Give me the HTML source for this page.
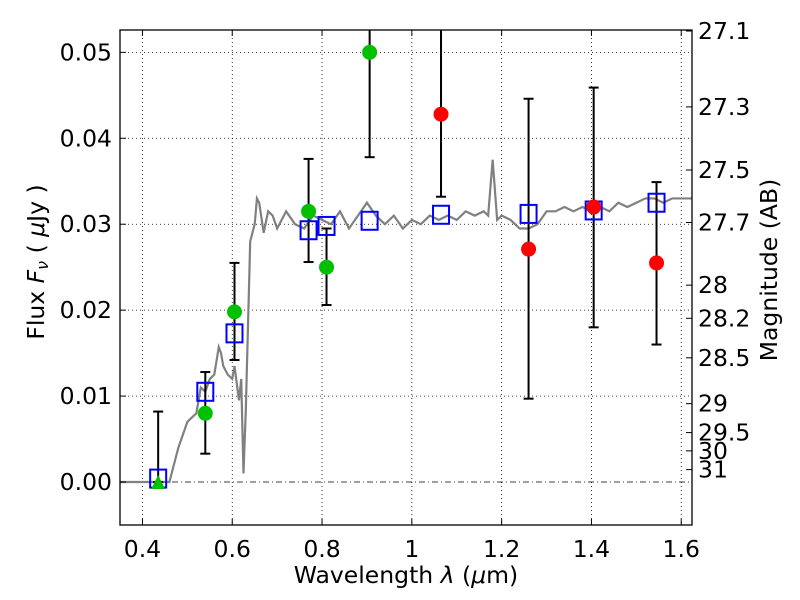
<!DOCTYPE html>
<html><head><meta charset="utf-8"><style>
html,body{margin:0;padding:0;background:#fff;}
svg{display:block;font-family:"DejaVu Sans","Liberation Sans",sans-serif;}
</style></head><body>
<svg id="chart" width="800" height="600" viewBox="0 0 800 600"></svg>
<script>
const xTicks=[0.4,0.6,0.8,1.0,1.2,1.4,1.6];
const xTickLabels=["0.4","0.6","0.8","1","1.2","1.4","1.6"];
const yTicks=[0,0.01,0.02,0.03,0.04,0.05];
const yTickLabels=["0.00","0.01","0.02","0.03","0.04","0.05"];
const magTicks=[27.1,27.3,27.5,27.7,28,28.2,28.5,29,29.5,30,31];
const specX=[0.30,0.46,0.48,0.50,0.51,0.52,0.53,0.54,0.55,0.56,0.57,0.575,0.58,0.59,0.60,0.605,0.61,0.615,0.62,0.625,0.63,0.64,0.65,0.655,0.66,0.67,0.68,0.69,0.70,0.72,0.74,0.76,0.78,0.80,0.82,0.84,0.86,0.88,0.90,0.92,0.94,0.96,0.98,1.00,1.02,1.04,1.06,1.08,1.10,1.12,1.14,1.16,1.17,1.18,1.19,1.20,1.22,1.24,1.26,1.28,1.30,1.32,1.34,1.36,1.38,1.40,1.42,1.44,1.46,1.48,1.50,1.52,1.54,1.56,1.58,1.60,1.625];
const specY=[0,0,0.004,0.007,0.0075,0.008,0.011,0.0105,0.012,0.0125,0.0157,0.015,0.0135,0.0125,0.012,0.0135,0.0115,0.0095,0.012,0.001,0.008,0.028,0.030,0.033,0.0325,0.029,0.0315,0.031,0.0295,0.0315,0.030,0.0295,0.031,0.0305,0.030,0.0315,0.0295,0.031,0.0325,0.031,0.030,0.031,0.0295,0.0305,0.030,0.031,0.0305,0.031,0.0305,0.0315,0.031,0.0315,0.031,0.0375,0.0305,0.031,0.0305,0.0295,0.0295,0.030,0.0315,0.0315,0.032,0.0315,0.032,0.0315,0.032,0.0315,0.0325,0.032,0.0325,0.033,0.033,0.0325,0.033,0.033,0.033];
const modelX=[0.435,0.54,0.605,0.77,0.81,0.906,1.065,1.26,1.405,1.545];
const modelY=[0.0004,0.0105,0.0173,0.0293,0.0298,0.0304,0.0311,0.0312,0.0316,0.0325];
const greenX=[0.54,0.605,0.77,0.81,0.906];
const greenY=[0.008,0.0198,0.0315,0.025,0.05];
const greenLo=[0.0033,0.0142,0.0256,0.0206,0.0378];
const greenHi=[0.0128,0.0255,0.0376,0.0295,0.06];
const triX=[0.435];
const triY=[0.0];
const triLo=[0.0];
const triHi=[0.0082];
const redX=[1.065,1.26,1.405,1.545];
const redY=[0.0428,0.0271,0.032,0.0255];
const redLo=[0.0332,0.0097,0.018,0.016];
const redHi=[0.06,0.0446,0.0459,0.0349];

const L=120,R=692,T=30,B=525;
const X0=0.35,X1=1.624,Y0=-0.005,Y1=0.0526;
const sx=v=>L+(v-X0)/(X1-X0)*(R-L);
const sy=v=>B-(v-Y0)/(Y1-Y0)*(B-T);
const svg=document.getElementById('chart');
const NS='http://www.w3.org/2000/svg';
function mk(tag,attrs,parent){const e=document.createElementNS(NS,tag);for(const k in attrs)e.setAttribute(k,attrs[k]);(parent||svg).appendChild(e);return e;}

const clip=mk('clipPath',{id:'pc'});mk('rect',{x:L,y:T,width:R-L,height:B-T},clip);
const grid=mk('g',{});


xTicks.forEach(v=>{mk('line',{x1:sx(v),x2:sx(v),y1:T,y2:B,stroke:'#000','stroke-width':0.8,'stroke-dasharray':'1,3'},grid);});
yTicks.forEach(v=>{if(v!==0)mk('line',{x1:L,x2:R,y1:sy(v),y2:sy(v),stroke:'#000','stroke-width':0.8,'stroke-dasharray':'1,3'},grid);});
const zl=mk('line',{x1:L,x2:R,y1:sy(0),y2:sy(0),stroke:'#000','stroke-width':0.8,'stroke-dasharray':'6,3,1,3'});



const pg=mk('g',{'clip-path':'url(#pc)'});
const sp=mk('polyline',{points:specX.map((x,i)=>sx(x)+','+sy(specY[i])).join(' '),fill:'none',stroke:'#808080','stroke-width':2.2},pg);



function errs(xs,lo,hi,name){xs.forEach((x,i)=>{const g=mk('g',{},pg);


mk('line',{x1:sx(x),x2:sx(x),y1:sy(lo[i]),y2:sy(hi[i]),stroke:'#000','stroke-width':2},g);
mk('line',{x1:sx(x)-5,x2:sx(x)+5,y1:sy(lo[i]),y2:sy(lo[i]),stroke:'#000','stroke-width':2},g);
mk('line',{x1:sx(x)-5,x2:sx(x)+5,y1:sy(hi[i]),y2:sy(hi[i]),stroke:'#000','stroke-width':2},g);});}
errs(triX,triLo,triHi,'triangle');errs(greenX,greenLo,greenHi,'green');errs(redX,redLo,redHi,'red');

modelX.forEach((x,i)=>{const r=mk('rect',{x:sx(x)-8,y:sy(modelY[i])-9,width:16,height:18,fill:'none',stroke:'#0000ff','stroke-width':2},pg);

});
triX.forEach((x,i)=>{const p=mk('polygon',{points:`${sx(x)-7},${sy(triY[i])+7} ${sx(x)+7},${sy(triY[i])+7} ${sx(x)},${sy(triY[i])-7}`,fill:'#00c000'},pg);

});
greenX.forEach((x,i)=>{const c=mk('circle',{cx:sx(x),cy:sy(greenY[i]),r:7.5,fill:'#00c000'},pg);

});
redX.forEach((x,i)=>{const c=mk('circle',{cx:sx(x),cy:sy(redY[i]),r:7.5,fill:'#ff0000'},pg);

});

const fr=mk('rect',{x:L,y:T,width:R-L,height:B-T,fill:'none',stroke:'#000','stroke-width':1.3});



xTicks.forEach((v,i)=>{mk('line',{x1:sx(v),x2:sx(v),y1:B,y2:B-6,stroke:'#000'});mk('line',{x1:sx(v),x2:sx(v),y1:T,y2:T+6,stroke:'#000'});
const t=mk('text',{x:sx(v),y:B+32,'font-size':23.5,'text-anchor':'middle'});t.textContent=xTickLabels[i];

});
yTicks.forEach((v,i)=>{mk('line',{x1:L,x2:L+6,y1:sy(v),y2:sy(v),stroke:'#000'});
const t=mk('text',{x:L-8,y:sy(v)+8,'font-size':23.5,'text-anchor':'end'});t.textContent=yTickLabels[i];

});
magTicks.forEach(m=>{const f=Math.pow(10,-0.4*(m-23.9));const y=sy(f);
mk('line',{x1:R,x2:R-6,y1:y,y2:y,stroke:'#000'});
const t=mk('text',{x:R+6,y:y+8,'font-size':23.5});t.textContent=String(m);

});

const xl=mk('text',{x:406,y:583,'font-size':23.5,'text-anchor':'middle'});
xl.innerHTML='Wavelength  <tspan font-style="italic">λ</tspan> (<tspan font-style="italic">μ</tspan>m)';


const yl=mk('text',{x:0,y:0,'font-size':23.5,'text-anchor':'middle',transform:'translate(44,262) rotate(-90)'});
yl.innerHTML='Flux  <tspan font-style="italic">F<tspan font-size="16" dy="4">ν</tspan></tspan><tspan dy="-4">  (  </tspan><tspan font-style="italic">μ</tspan>Jy )';


const rl=mk('text',{x:0,y:0,'font-size':23.5,'text-anchor':'middle',transform:'translate(777,270) rotate(-90)'});
rl.textContent='Magnitude (AB)';


</script>
</body></html>
